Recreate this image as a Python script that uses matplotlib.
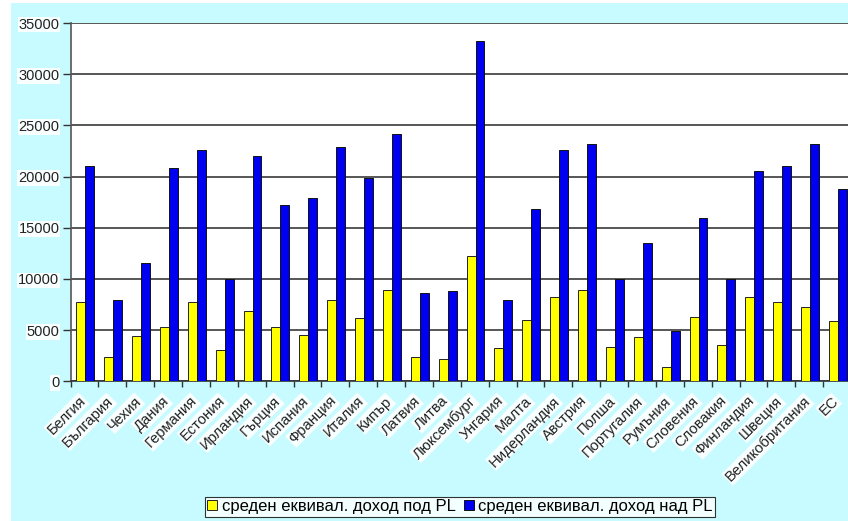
import matplotlib
matplotlib.use("Agg")
import matplotlib.pyplot as plt
from matplotlib.patches import Rectangle
from matplotlib.transforms import ScaledTranslation
import numpy as np

plt.rcParams['font.family'] = ['Liberation Sans', 'DejaVu Sans']

countries = ["Белгия", "България", "Чехия", "Дания", "Германия", "Естония",
             "Ирландия", "Гърция", "Испания", "Франция", "Италия", "Кипър",
             "Латвия", "Литва", "Люксембург", "Унгария", "Малта", "Нидерландия",
             "Австрия", "Полша", "Португалия", "Румъния", "Словения", "Словакия",
             "Финландия", "Швеция", "Великобритания", "ЕС"]

below_pl = [7800, 2350, 4400, 5300, 7800, 3100, 6900, 5300, 4500, 7950,
            6150, 8950, 2350, 2150, 12200, 3250, 6000, 8200, 8950, 3400,
            4300, 1450, 6300, 3550, 8200, 7800, 7300, 5850]

above_pl = [21000, 7950, 11600, 20800, 22600, 10000, 22000, 17200, 17900, 22900,
            19900, 24200, 8650, 8800, 33200, 7950, 16850, 22600, 23200, 10000,
            13500, 4900, 16000, 10000, 20500, 21000, 23200, 18800]

legend_labels = ["среден еквивал. доход под PL", "среден еквивал. доход над PL"]
y_ticks = [0, 5000, 10000, 15000, 20000, 25000, 30000, 35000]

W, H = 848, 521
fig = plt.figure(figsize=(W / 100, H / 100), dpi=100, facecolor="white")

# light turquoise chart panel, kept behind the axes
panel = Rectangle((11 / W, 0), 1 - 11 / W, (H - 3) / H,
                  transform=fig.transFigure, facecolor="#C8FBFF",
                  edgecolor="none", zorder=-10)
fig.add_artist(panel)

left, right = 70.5, 851
top, bottom = 23, 381.4
ax = fig.add_axes([left / W, (H - bottom) / H, (right - left) / W, (bottom - top) / H])
ax.set_zorder(1)
ax.set_facecolor("white")

n = len(countries)
x = np.arange(n) + 0.5
bw = 0.32
ax.bar(x - bw / 2 + 0.03, below_pl, width=bw, color="#FFFF00", edgecolor="#222222",
       linewidth=0.7, label=legend_labels[0], zorder=3)
ax.bar(x + bw / 2 + 0.03, above_pl, width=bw, color="#0000F0", edgecolor="#111111",
       linewidth=0.7, label=legend_labels[1], zorder=3)

ax.set_xlim(0, n)
ax.set_ylim(0, 35000)

ax.set_yticks(y_ticks)
ax.set_yticklabels([str(v) for v in y_ticks])
ax.yaxis.grid(True, color="#3a3a3a", linewidth=1.2, zorder=1)
ax.set_axisbelow(True)

ax.set_xticks(np.arange(n + 1))
ax.set_xticklabels([])
ax.set_xticks(x, minor=True)
ax.set_xticklabels(countries, minor=True, rotation=45, ha="right",
                   rotation_mode="anchor")
ax.tick_params(axis="x", which="major", direction="out", length=4, width=1,
               color="#333333")
ax.tick_params(axis="x", which="minor", length=0, pad=6, labelsize=10.6,
               labelcolor="#222222")
ax.tick_params(axis="y", direction="out", length=6, width=1, color="#333333",
               labelsize=10.5, labelcolor="#222222", pad=2)

# category names sit a little left of and below the category centre
shift = ScaledTranslation(-6 / 100, -4 / 100, fig.dpi_scale_trans)
for lab in ax.get_xticklabels(minor=True):
    lab.set_transform(lab.get_transform() + shift)

for lab in ax.get_xticklabels(minor=True) + ax.get_yticklabels():
    lab.set_bbox(dict(facecolor="white", edgecolor="none", pad=0.6, alpha=0.9))

for s in ["top", "right"]:
    ax.spines[s].set_visible(False)
ax.spines["left"].set_color("#555555")
ax.spines["left"].set_linewidth(1.2)
ax.spines["bottom"].set_color("#333333")
ax.spines["bottom"].set_linewidth(1.2)

leg = ax.legend(loc="center", bbox_to_anchor=(460 / W, (H - 506.5) / H),
                bbox_transform=fig.transFigure, ncol=2, frameon=True,
                fancybox=False, edgecolor="black", fontsize=12,
                handlelength=0.6, handleheight=0.6, handletextpad=0.25,
                columnspacing=0.5, borderpad=0.15, borderaxespad=0)
leg.get_frame().set_linewidth(0.8)
leg.get_frame().set_facecolor("white")

fig.savefig("out.png", dpi=100, facecolor=fig.get_facecolor())
